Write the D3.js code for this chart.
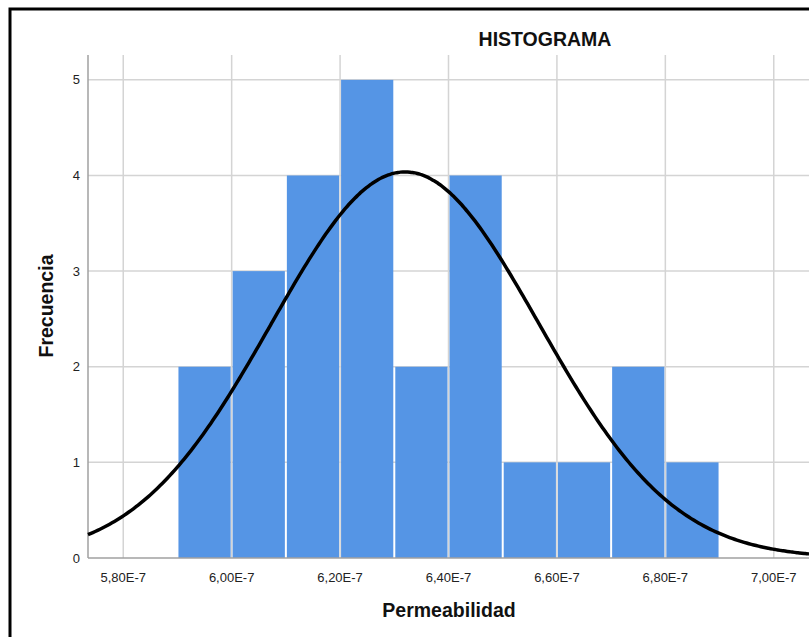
<!DOCTYPE html>
<html>
<head>
<meta charset="utf-8">
<script src="https://cdn.jsdelivr.net/npm/d3@7"></script>
<style>
  html, body { margin: 0; padding: 0; background: #fff; }
  svg { display: block; font-family: "Liberation Sans", Arial, sans-serif; }
  .grid line { stroke: #d4d4d4; stroke-width: 1.5; }
  .tick-label { font-size: 13px; fill: #222; }
  .title, .axis-label { font-weight: bold; font-size: 19.5px; fill: #111; }
</style>
</head>
<body>
<svg id="chart" width="809" height="637"></svg>
<script>
// bin edges (lower bounds, x 1E-7) and frequencies
const binStarts = [5.9, 6.0, 6.1, 6.2, 6.3, 6.4, 6.5, 6.6, 6.7, 6.8];
const counts = [2, 3, 4, 5, 2, 4, 1, 1, 2, 1];
const binWidth = 0.1;
const xTicks = [5.8, 6.0, 6.2, 6.4, 6.6, 6.8, 7.0];
const xTickLabels = ['5,80E-7', '6,00E-7', '6,20E-7', '6,40E-7', '6,60E-7', '6,80E-7', '7,00E-7'];
const yTicks = [0, 1, 2, 3, 4, 5];
// fitted normal curve
const mean = 6.32;
const sd = 0.247;
const n = d3.sum(counts);

const svg = d3.select('#chart');
const plotLeft = 88, plotRight = 809, plotTop = 55, plotBottom = 558;

const x = d3.scaleLinear().domain([5.735, 7.065]).range([plotLeft, plotRight]);
const y = d3.scaleLinear().domain([0, 5.26]).range([plotBottom, plotTop]);

// frame
svg.append('rect')
  .attr('x', 10).attr('y', 9)
  .attr('width', 830).attr('height', 660)
  .attr('fill', 'none').attr('stroke', '#000').attr('stroke-width', 3);

// gridlines
const grid = svg.append('g').attr('class', 'grid');
grid.selectAll('.hg').data(yTicks.filter(d => d > 0)).enter().append('line')
  .attr('x1', plotLeft).attr('x2', plotRight)
  .attr('y1', d => y(d)).attr('y2', d => y(d));
grid.selectAll('.vg').data(xTicks).enter().append('line')
  .attr('x1', d => x(d)).attr('x2', d => x(d))
  .attr('y1', plotTop).attr('y2', plotBottom);

// bars
svg.append('g').selectAll('rect')
  .data(binStarts.map((s, i) => ({ s, c: counts[i] })))
  .enter().append('rect')
  .attr('x', d => x(d.s) + 1)
  .attr('width', d => x(d.s + binWidth) - x(d.s) - 2)
  .attr('y', d => y(d.c))
  .attr('height', d => y(0) - y(d.c))
  .attr('fill', '#5595e5');

// axes lines
svg.append('line').attr('x1', plotLeft).attr('x2', plotLeft).attr('y1', plotTop).attr('y2', plotBottom)
  .attr('stroke', '#a0a0a0').attr('stroke-width', 1.5);
svg.append('line').attr('x1', plotLeft).attr('x2', plotRight).attr('y1', plotBottom).attr('y2', plotBottom)
  .attr('stroke', '#a0a0a0').attr('stroke-width', 1.5);

// normal curve
const pts = d3.range(0, 301).map(i => {
  const v = 5.735 + (7.065 - 5.735) * i / 300;
  const f = n * binWidth / (sd * Math.sqrt(2 * Math.PI)) * Math.exp(-0.5 * ((v - mean) / sd) ** 2);
  return [v, f];
});
svg.append('path')
  .datum(pts)
  .attr('d', d3.line().x(d => x(d[0])).y(d => y(d[1])).curve(d3.curveBasis))
  .attr('fill', 'none').attr('stroke', '#000').attr('stroke-width', 3.5);

// tick labels
svg.append('g').selectAll('text').data(yTicks).enter().append('text')
  .attr('class', 'tick-label')
  .attr('x', 80).attr('y', d => y(d)).attr('dy', '0.35em')
  .attr('text-anchor', 'end')
  .text(d => d);
svg.append('g').selectAll('text').data(xTicks).enter().append('text')
  .attr('class', 'tick-label')
  .attr('x', d => x(d)).attr('y', 582)
  .attr('text-anchor', 'middle')
  .text((d, i) => xTickLabels[i]);

// titles
svg.append('text').attr('class', 'title')
  .attr('x', 545).attr('y', 46).attr('text-anchor', 'middle')
  .text('HISTOGRAMA');
svg.append('text').attr('class', 'axis-label')
  .attr('x', 449).attr('y', 617).attr('text-anchor', 'middle')
  .text('Permeabilidad');
svg.append('text').attr('class', 'axis-label')
  .attr('transform', 'translate(53,306) rotate(-90)')
  .attr('text-anchor', 'middle')
  .text('Frecuencia');
</script>
</body>
</html>
